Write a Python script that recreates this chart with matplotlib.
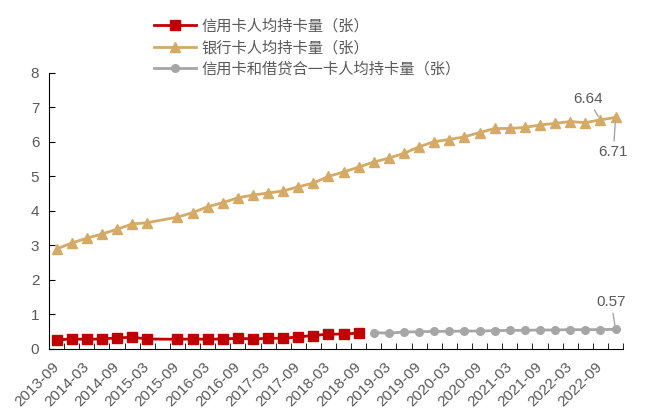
import numpy as np
import matplotlib
matplotlib.use("Agg")
import matplotlib.pyplot as plt

plt.rcParams['font.family'] = ['Liberation Sans', 'Noto Sans CJK SC', 'DejaVu Sans']

# 季度 2013-09 ~ 2022-12
quarters = ['2013-09', '2013-12', '2014-03', '2014-06', '2014-09', '2014-12',
            '2015-03', '2015-06', '2015-09', '2015-12', '2016-03', '2016-06',
            '2016-09', '2016-12', '2017-03', '2017-06', '2017-09', '2017-12',
            '2018-03', '2018-06', '2018-09', '2018-12', '2019-03', '2019-06',
            '2019-09', '2019-12', '2020-03', '2020-06', '2020-09', '2020-12',
            '2021-03', '2021-06', '2021-09', '2021-12', '2022-03', '2022-06',
            '2022-09', '2022-12']

# 信用卡人均持卡量（2013-09 ~ 2018-09, 2015-06 缺失）
credit = [0.26, 0.29, 0.28, 0.29, 0.32, 0.34, 0.29, None, 0.28, 0.29, 0.28,
          0.29, 0.31, 0.29, 0.31, 0.31, 0.35, 0.39, 0.43, 0.43, 0.46]
# 银行卡人均持卡量
bank = [2.90, 3.07, 3.21, 3.33, 3.47, 3.62, 3.66, None, 3.82, 3.95, 4.12,
        4.24, 4.38, 4.46, 4.52, 4.58, 4.70, 4.81, 5.00, 5.13, 5.27, 5.42,
        5.53, 5.67, 5.86, 6.01, 6.07, 6.15, 6.27, 6.39, 6.39, 6.42, 6.49,
        6.54, 6.59, 6.56, 6.64, 6.71]
# 信用卡和借贷合一卡人均持卡量（2018-12 ~ 2022-12）
combo = [0.47, 0.46, 0.49, 0.50, 0.51, 0.51, 0.52, 0.52, 0.53, 0.54, 0.54,
         0.55, 0.55, 0.56, 0.56, 0.56, 0.57]

names = ['信用卡人均持卡量（张）', '银行卡人均持卡量（张）', '信用卡和借贷合一卡人均持卡量（张）']


def xy(vals, start):
    x = [start + i for i, v in enumerate(vals) if v is not None]
    y = [v for v in vals if v is not None]
    return np.array(x), np.array(y)


fig = plt.figure(figsize=(6.45, 4.12), dpi=100)
ax = fig.add_axes([0.076, 0.153, 0.890, 0.670])

x1, y1 = xy(credit, 0)
x2, y2 = xy(bank, 0)
x3, y3 = xy(combo, quarters.index('2018-12'))

ax.plot(x1, y1, color='#C00000', lw=2.0, marker='s', ms=7, label=names[0])
ax.plot(x2, y2, color='#D4AA66', lw=2.0, marker='^', ms=7.5, label=names[1])
ax.plot(x3, y3, color='#A6A6A6', lw=2.0, marker='o', ms=5.5, label=names[2])

ax.set_xlim(-0.5, len(quarters) - 0.5)
ax.set_ylim(0, 8)
ax.set_yticks(range(0, 9))
ax.set_xticks(range(0, len(quarters), 2))
ax.set_xticklabels(quarters[::2], rotation=45, ha='right', va='center', rotation_mode='anchor')
ax.set_xticks(np.arange(-0.5, len(quarters)), minor=True)
ax.tick_params(axis='x', which='major', length=0, labelsize=11, colors='#595959', pad=11)
ax.tick_params(axis='x', which='minor', length=4, color='black', direction='in')
ax.tick_params(axis='y', length=4, direction='in', color='black', labelsize=11, labelcolor='#595959', pad=7)

for s in ['top', 'right']:
    ax.spines[s].set_visible(False)
ax.spines['left'].set_color('black')
ax.spines['bottom'].set_color('black')

# 数据标签
lab = dict(fontsize=11, color='#595959', ha='center', va='center',
           arrowprops=dict(arrowstyle='-', color='#A6A6A6', lw=1, shrinkA=1, shrinkB=3))
ax.annotate('6.64', xy=(36, bank[36]), xytext=(-9, 15), textcoords='offset points', **lab)
ax.annotate('6.71', xy=(37, bank[37]), xytext=(-1.5, -25), textcoords='offset points', **lab)
ax.annotate('0.57', xy=(37, combo[-1]), xytext=(-3, 19.5), textcoords='offset points', **lab)

fig.legend(loc='upper left', bbox_to_anchor=(0.218, 0.987), frameon=False,
           fontsize=11, handlelength=2.7, handletextpad=0.4, labelspacing=0.45,
           labelcolor='#595959')

fig.savefig('out.png', dpi=100)
